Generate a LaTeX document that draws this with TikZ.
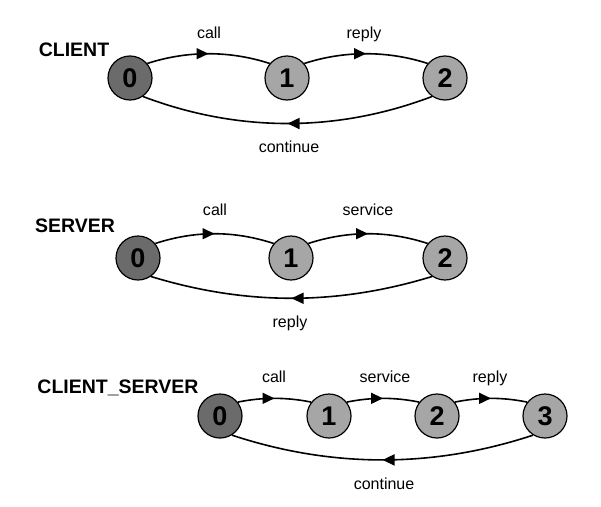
\documentclass[tikz,border=0pt]{standalone}
\usepackage{fontspec}
\setmainfont{Liberation Sans}
\usetikzlibrary{arrows.meta,decorations.markings}
\begin{document}
\begin{tikzpicture}[x=1pt,y=-1pt,
  st/.style={circle,draw,line width=1.2pt,minimum size=44pt,inner sep=0pt,
    font=\fontsize{27}{27}\selectfont\bfseries,fill=black!35},
  init/.style={st,fill=black!58},
  tr/.style={line width=1.6pt,postaction={decorate},
    decoration={markings,mark=at position 0.5 with {\arrow{Triangle[length=12pt,width=11pt]}}}},
  lbl/.style={anchor=base,font=\fontsize{16}{16}\selectfont},
  ttl/.style={anchor=base,font=\fontsize{19.5}{20}\selectfont\bfseries}]
\useasboundingbox (0,0) rectangle (601,506);
% CLIENT
\node[ttl] (tc) at (74,56) {CLIENT};
\node[init] (c0) at (130,78) {0};
\node[st] (c1) at (287,78) {1};
\node[st] (c2) at (445,78) {2};
\draw[tr] (c0.40) .. controls +(40,-13) and +(-40,-13) .. (c1.140);
\draw[tr] (c1.40) .. controls +(40,-13) and +(-40,-13) .. (c2.140);
\draw[tr] (c2.-125) .. controls +(-95,36) and +(95,36) .. (c0.-55);
\node[lbl] (lc1) at (209,38) {call};
\node[lbl] (lc2) at (364,38) {reply};
\node[lbl] (lc3) at (289,152) {continue};
% SERVER
\node[ttl] (ts) at (75,232) {SERVER};
\node[init] (s0) at (138,258) {0};
\node[st] (s1) at (291,258) {1};
\node[st] (s2) at (445,258) {2};
\draw[tr] (s0.40) .. controls +(40,-13) and +(-40,-13) .. (s1.140);
\draw[tr] (s1.40) .. controls +(40,-13) and +(-40,-13) .. (s2.140);
\draw[tr] (s2.-125) .. controls +(-95,29) and +(95,29) .. (s0.-55);
\node[lbl] (ls1) at (215,215) {call};
\node[lbl] (ls2) at (368,215) {service};
\node[lbl] (ls3) at (290,327) {reply};
% CLIENT_SERVER
\node[ttl] (tcs) at (118,393) {CLIENT\_SERVER};
\node[init] (k0) at (220,416) {0};
\node[st] (k1) at (329,416) {1};
\node[st] (k2) at (437,416) {2};
\node[st] (k3) at (545,416) {3};
\draw[tr] (k0.38) .. controls +(25,-5) and +(-25,-5) .. (k1.142);
\draw[tr] (k1.38) .. controls +(25,-5) and +(-25,-5) .. (k2.142);
\draw[tr] (k2.38) .. controls +(25,-5) and +(-25,-5) .. (k3.142);
\draw[tr] (k3.-122) .. controls +(-100,33) and +(100,33) .. (k0.-58);
\node[lbl] (lk1) at (274,382) {call};
\node[lbl] (lk2) at (385,382) {service};
\node[lbl] (lk3) at (490,382) {reply};
\node[lbl] (lk4) at (384,489) {continue};
\end{tikzpicture}
\end{document}
